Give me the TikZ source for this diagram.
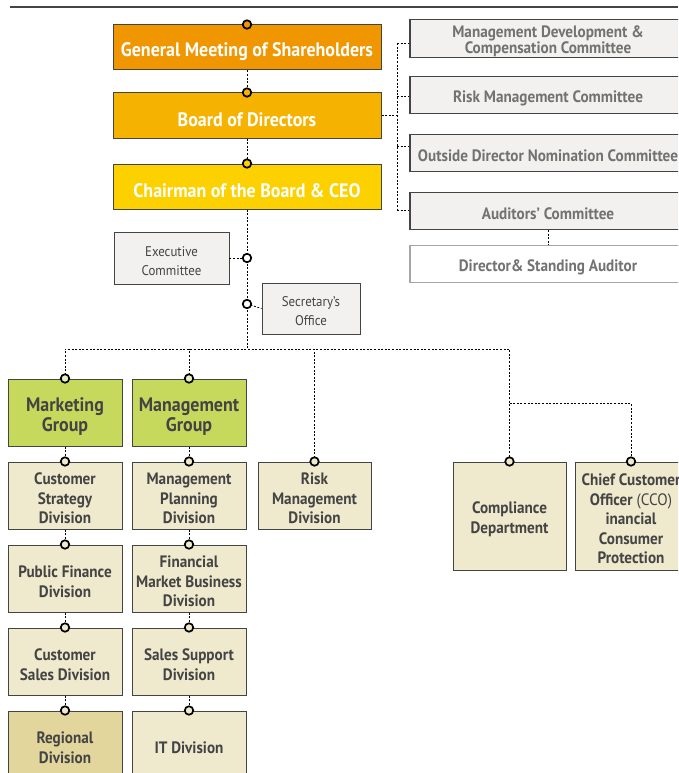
\documentclass[tikz,border=0pt]{standalone}
\usepackage{fontspec}
\setmainfont{PT Sans}[FakeStretch=0.92]
\usetikzlibrary{calc}
\definecolor{gmsC}{HTML}{F09600}
\definecolor{bodC}{HTML}{F5B300}
\definecolor{ceoC}{HTML}{FDD000}
\definecolor{grpC}{HTML}{C6D95C}
\definecolor{divC}{HTML}{EFE9CD}
\definecolor{regC}{HTML}{E2D69C}
\definecolor{comC}{HTML}{F2F1EF}
\definecolor{inkC}{HTML}{444444}
\definecolor{greyT}{HTML}{727272}
% a taller first line pushes the text block slightly down inside its box
\newcommand{\lowerstrut}{\rule{0pt}{1.1em}}
\tikzset{
  boxbase/.style={rectangle, inner sep=0pt, align=center},
  topbox/.style={boxbase, draw=inkC, line width=1pt, minimum width=268pt, minimum height=45pt,
    text=white, font=\bfseries\fontsize{19.5}{21}\selectfont},
  commbox/.style={boxbase, fill=comC, draw=inkC, line width=1.1pt, minimum width=276pt, minimum height=37pt,
    text=greyT, font=\bfseries\fontsize{16.5}{16}\selectfont},
  officebox/.style={boxbase, fill=comC, draw=inkC, line width=0.8pt,
    text=inkC, font=\fontsize{14}{19}\selectfont},
  grpbox/.style={boxbase, fill=grpC, draw=inkC, line width=1pt, minimum width=114pt, minimum height=67pt,
    text=inkC, font=\bfseries\fontsize{19.5}{20.5}\selectfont},
  divbox/.style={boxbase, fill=divC, draw=inkC, line width=1pt, minimum width=114pt, minimum height=67pt,
    text=inkC, font=\bfseries\fontsize{16.5}{19.5}\selectfont},
  joint/.style={circle, draw=black, line width=1.7pt, inner sep=0pt, minimum size=8.5pt},
  link/.style={line width=0.8pt, dash pattern=on 2pt off 1.6pt},
}
\begin{document}
\begin{tikzpicture}[x=1pt,y=-1pt]
\useasboundingbox (0,0) rectangle (678,773);
\clip (0,0) rectangle (678,773);
\fill[white] (0,0) rectangle (678,773);

% heading rule
\draw[line width=1.5pt, draw=inkC] (10,7) -- (678,7);

% governance spine
\node[topbox, fill=gmsC] (gms) at (247,47.5) {\lowerstrut General Meeting of Shareholders};
\node[topbox, fill=bodC] (bod) at (247,115.5) {\lowerstrut Board of Directors};
\node[topbox, fill=ceoC] (ceo) at (247,186.5) {\lowerstrut Chairman of the Board \& CEO};

% board committees
\node[commbox] (c1) at (548,38.5) {\lowerstrut Management Development \&\\Compensation Committee};
\node[commbox] (c2) at (548,95) {\lowerstrut Risk Management Committee};
\node[commbox] (c3) at (548,153) {\lowerstrut Outside Director Nomination Committee};
\node[commbox] (c4) at (548,211) {\lowerstrut Auditors’ Committee};
\node[commbox, fill=white, draw=black!35] (das) at (548,264) {\lowerstrut Director\& Standing Auditor};

% staff offices
\node[officebox, minimum width=115pt, minimum height=52pt] (exec) at (171.5,258) {\lowerstrut Executive\\Committee};
\node[officebox, minimum width=98pt, minimum height=51pt] (sec) at (311,308.5) {\lowerstrut Secretary's\\Office};

% groups
\node[grpbox] (mkt) at (65,412.5) {\lowerstrut Marketing\\Group};
\node[grpbox] (mgt) at (189,412.5) {\lowerstrut Management\\Group};

% divisions, first column
\node[divbox] (cs) at (65,495.5) {\lowerstrut Customer\\Strategy\\Division};
\node[divbox] (pf) at (65,578.5) {\lowerstrut Public Finance\\Division};
\node[divbox] (csd) at (65,661.5) {\lowerstrut Customer\\Sales Division};
\node[divbox, fill=regC] (reg) at (65,744.5) {\lowerstrut Regional\\Division};

% divisions, second column
\node[divbox] (mp) at (189,495.5) {\lowerstrut Management\\Planning\\Division};
\node[divbox] (fm) at (189,578.5) {\lowerstrut Financial\\Market Business\\Division};
\node[divbox] (ss) at (189,661.5) {\lowerstrut Sales Support\\Division};
\node[divbox] (itd) at (189,744.5) {\lowerstrut IT Division};

% independent units
\node[divbox, minimum width=113pt] (rmd) at (314.5,495.5) {\lowerstrut Risk\\Management\\Division};
\node[divbox, minimum width=113pt, minimum height=108pt] (comp) at (509.5,516) {\lowerstrut Compliance\\Department};
\node[divbox, minimum width=112pt, minimum height=108pt] (cco) at (631,516)
  {\lowerstrut Chief Customer\\Officer {\mdseries(CCO)}\\inancial\\Consumer\\Protection};

% routing points
\coordinate (hub) at (247,349);
\coordinate (fork) at (509.5,403);
\coordinate (t1) at (397,43);
\coordinate (t2) at (397,96);
\coordinate (t3) at (397,146);
\coordinate (t4) at (397,210);
\coordinate (jx) at (247,258);
\coordinate (js) at (247,304);

% dashed connectors
\draw[link] (gms.south) -- (bod.north);
\draw[link] (bod.south) -- (ceo.north);
\draw[link] (ceo.south) -- (hub);
\draw[link] (mkt.north) -- (mkt.north |- hub) -- (comp.north |- hub) -- (comp.north);
\draw[link] (mgt.north) -- (mgt.north |- hub);
\draw[link] (rmd.north) -- (rmd.north |- hub);
\draw[link] (fork) -- (cco.north |- fork) -- (cco.north);
\draw[link] (exec.east) -- (jx);
\draw[link] (js) -- (sec.west);
\draw[link] (mkt.south) -- (cs.north);
\draw[link] (cs.south) -- (pf.north);
\draw[link] (pf.south) -- (csd.north);
\draw[link] (csd.south) -- (reg.north);
\draw[link] (mgt.south) -- (mp.north);
\draw[link] (mp.south) -- (fm.north);
\draw[link] (fm.south) -- (ss.north);
\draw[link] (ss.south) -- (itd.north);
\draw[link] (c4.south) -- (das.north);
\draw[link] (bod.east) -- (bod.east -| t1);
\draw[link] (t1) -- (t4);
\draw[link] (t1) -- (t1 -| c1.west);
\draw[link] (t2) -- (t2 -| c2.west);
\draw[link] (t3) -- (t3 -| c3.west);
\draw[link] (t4) -- (t4 -| c4.west);

% junction rings
\node[joint, fill=gmsC] at (gms.north) {};
\node[joint, fill=bodC] at (bod.north) {};
\node[joint, fill=ceoC] at (ceo.north) {};
\node[joint, fill=white] at (jx) {};
\node[joint, fill=white] at (js) {};
\foreach \n in {mkt,mgt}{\node[joint, fill=grpC!40] at (\n.north) {};}
\foreach \n in {cs,pf,csd,reg,mp,fm,ss,itd,rmd,comp,cco}{\node[joint, fill=divC] at (\n.north) {};}
\end{tikzpicture}
\end{document}
